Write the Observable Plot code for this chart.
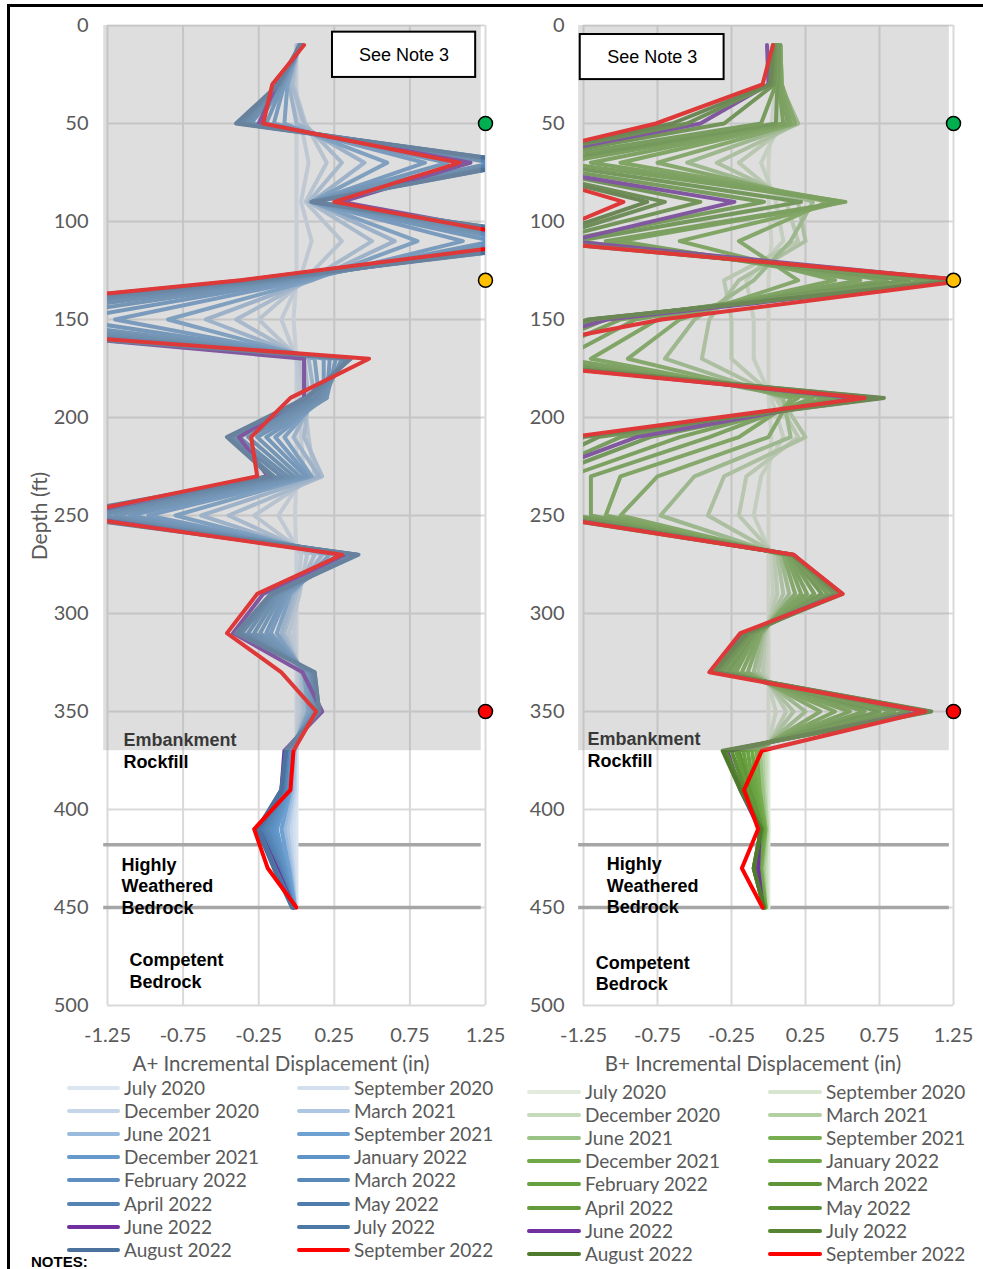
<!DOCTYPE html>
<html>
<head>
<meta charset="utf-8">
<script src="https://cdn.jsdelivr.net/npm/d3@7"></script>
<script src="https://cdn.jsdelivr.net/npm/@observablehq/plot@0.6"></script>
<style>
  body { margin: 0; background: #fff; }
  #wrap { position: relative; width: 983px; height: 1269px; overflow: hidden; font-family: Lato, sans-serif; background: #fff; }
  .frame { position: absolute; left: 7px; top: 4px; width: 990px; height: 1280px; border-top: 3px solid #000; border-left: 3px solid #000; box-sizing: border-box; }
  .panel { position: absolute; top: 0; }
  .xtitle { position: absolute; font-size: 20.5px; line-height: 17px; height: 17px; color: #595959; white-space: nowrap; transform: translate(-50%, -50%); }
  .ytitle { position: absolute; font-size: 21px; color: #595959; white-space: nowrap; transform: translate(-50%, -50%) rotate(-90deg); }
  .leg { position: absolute; height: 16px; line-height: 16px; display: flex; align-items: center; font-size: 19px; color: #595959; white-space: nowrap; }
  .leg span.sw { display: inline-block; height: 4px; border-radius: 2px; margin-right: 4px; }
  .notes { position: absolute; left: 31px; top: 1255px; font: bold 15px/13px "Liberation Sans", Arial, sans-serif; color: #000; }
</style>
</head>
<body>
<div id="wrap">
  <div class="frame"></div>
</div>
<script>
// ---- data ----
const depths = [10, 30, 50, 70, 90, 110, 130, 150, 170, 190, 210, 230, 250, 270, 290, 310, 330, 350, 370, 390, 410, 430, 450];
const dates = ["July 2020", "September 2020", "December 2020", "March 2021", "June 2021", "September 2021",
  "December 2021", "January 2022", "February 2022", "March 2022", "April 2022", "May 2022",
  "June 2022", "July 2022", "August 2022", "September 2022"];
const xTicks = [-1.25, -0.75, -0.25, 0.25, 0.75, 1.25];
const yTicks = [0, 50, 100, 150, 200, 250, 300, 350, 400, 450, 500];

// A+ incremental displacement (in), one row per reading date, values at the depths above
const valuesA = [
  [0.00, 0.00, 0.00, 0.00, 0.00, 0.00, 0.00, -0.02, 0.00, 0.00, 0.00, 0.00, -0.01, 0.00, 0.00, 0.00, 0.00, 0.00, 0.00, 0.00, 0.00, 0.00, 0.00],
  [0.00, -0.01, 0.03, 0.08, 0.03, 0.10, 0.02, -0.10, 0.00, 0.02, 0.03, 0.05, -0.12, 0.03, 0.01, -0.02, 0.01, 0.01, 0.00, 0.00, -0.02, -0.01, 0.00],
  [0.00, -0.02, 0.06, 0.20, 0.06, 0.30, 0.05, -0.25, 0.02, 0.05, 0.08, 0.12, -0.28, 0.07, 0.02, -0.05, 0.02, 0.03, -0.01, -0.01, -0.04, -0.02, -0.01],
  [0.01, -0.03, 0.05, 0.30, 0.08, 0.50, 0.08, -0.40, 0.05, 0.08, 0.05, 0.17, -0.45, 0.12, 0.00, -0.08, 0.03, 0.05, -0.01, -0.02, -0.06, -0.03, -0.01],
  [0.01, -0.05, 0.00, 0.45, 0.10, 0.65, 0.10, -0.60, 0.08, 0.12, -0.02, 0.15, -0.63, 0.17, -0.02, -0.10, 0.04, 0.07, -0.02, -0.03, -0.08, -0.04, -0.01],
  [0.02, -0.06, -0.08, 0.60, 0.10, 0.80, 0.10, -0.85, 0.12, 0.15, -0.08, 0.10, -0.80, 0.22, -0.04, -0.13, 0.05, 0.08, -0.03, -0.04, -0.10, -0.05, -0.01],
  [0.02, -0.08, -0.15, 0.85, 0.10, 1.10, 0.05, -1.20, 0.18, 0.18, -0.14, 0.08, -0.98, 0.27, -0.06, -0.17, 0.06, 0.10, -0.04, -0.05, -0.13, -0.07, -0.02],
  [0.02, -0.09, -0.20, 1.00, 0.10, 1.30, 0.00, -1.50, 0.22, 0.20, -0.20, 0.06, -1.10, 0.30, -0.08, -0.20, 0.07, 0.11, -0.05, -0.06, -0.15, -0.08, -0.02],
  [0.03, -0.10, -0.25, 1.15, 0.10, 1.45, -0.05, -1.80, 0.26, 0.20, -0.26, 0.02, -1.20, 0.33, -0.10, -0.24, 0.08, 0.12, -0.05, -0.07, -0.17, -0.09, -0.02],
  [0.03, -0.10, -0.30, 1.30, 0.10, 1.60, -0.10, -2.10, 0.30, 0.18, -0.32, -0.02, -1.30, 0.36, -0.12, -0.28, 0.09, 0.13, -0.06, -0.08, -0.19, -0.10, -0.02],
  [0.03, -0.11, -0.33, 1.40, 0.10, 1.70, -0.15, -2.40, 0.32, 0.15, -0.38, -0.06, -1.38, 0.38, -0.14, -0.32, 0.10, 0.14, -0.06, -0.08, -0.21, -0.11, -0.02],
  [0.03, -0.12, -0.36, 1.45, 0.12, 1.80, -0.20, -2.60, 0.34, 0.12, -0.42, -0.10, -1.45, 0.40, -0.15, -0.36, 0.10, 0.14, -0.07, -0.09, -0.23, -0.12, -0.02],
  [0.04, -0.13, -0.25, 1.15, 0.30, 1.70, -0.35, -2.80, 0.05, 0.05, -0.38, -0.19, -1.50, 0.32, -0.22, -0.42, 0.04, 0.17, -0.08, -0.10, -0.25, -0.13, -0.02],
  [0.03, -0.12, -0.38, 1.50, 0.12, 1.90, -0.25, -2.90, 0.35, 0.08, -0.45, -0.15, -1.55, 0.41, -0.16, -0.38, 0.12, 0.15, -0.07, -0.10, -0.25, -0.14, -0.02],
  [0.02, -0.12, -0.40, 1.50, 0.10, 1.90, -0.30, -3.10, 0.36, 0.06, -0.46, -0.17, -1.60, 0.40, -0.17, -0.40, 0.12, 0.15, -0.07, -0.10, -0.26, -0.15, -0.03],
  [0.05, -0.16, -0.22, 1.08, 0.25, 1.65, -0.37, -3.00, 0.48, -0.04, -0.30, -0.26, -1.52, 0.30, -0.26, -0.46, -0.10, 0.13, -0.02, -0.04, -0.28, -0.19, 0.00]
];

// B+ incremental displacement (in)
const valuesB = [
  [0.06, 0.05, 0.02, 0.00, 0.00, 0.02, 0.00, 0.00, 0.00, 0.00, 0.02, 0.00, 0.00, 0.00, 0.00, 0.00, 0.00, 0.00, 0.00, 0.00, 0.00, 0.00, 0.00],
  [0.06, 0.06, 0.08, -0.05, 0.05, 0.10, -0.15, -0.10, -0.10, 0.02, 0.10, -0.05, -0.10, 0.02, 0.03, -0.01, -0.02, 0.05, -0.01, -0.01, 0.00, -0.01, -0.01],
  [0.07, 0.07, 0.15, -0.20, 0.12, 0.20, -0.30, -0.25, -0.25, 0.05, 0.20, -0.15, -0.20, 0.04, 0.06, -0.02, -0.04, 0.12, -0.02, -0.02, -0.01, -0.02, -0.01],
  [0.07, 0.08, 0.20, -0.35, 0.20, 0.25, -0.20, -0.40, -0.45, 0.08, 0.25, -0.30, -0.41, 0.06, 0.10, -0.03, -0.07, 0.17, -0.04, -0.03, -0.01, -0.03, -0.02],
  [0.08, 0.08, 0.20, -0.55, 0.30, 0.15, -0.10, -0.50, -0.70, 0.10, 0.15, -0.50, -0.73, 0.08, 0.14, -0.04, -0.10, 0.25, -0.06, -0.04, -0.02, -0.04, -0.02],
  [0.08, 0.09, 0.18, -0.75, 0.40, -0.20, 0.20, -0.60, -0.95, 0.15, 0.00, -0.75, -1.00, 0.10, 0.18, -0.05, -0.14, 0.35, -0.08, -0.06, -0.02, -0.05, -0.02],
  [0.08, 0.09, 0.15, -1.00, 0.50, -0.60, 0.45, -0.75, -1.20, 0.20, -0.20, -1.00, -1.10, 0.12, 0.22, -0.06, -0.18, 0.45, -0.11, -0.08, -0.03, -0.06, -0.02],
  [0.08, 0.08, 0.13, -1.20, 0.52, -1.00, 0.62, -0.90, -1.40, 0.30, -0.40, -1.20, -1.20, 0.13, 0.26, -0.08, -0.22, 0.55, -0.14, -0.10, -0.03, -0.07, -0.03],
  [0.07, 0.07, 0.10, -1.40, 0.50, -1.10, 0.80, -1.00, -1.60, 0.40, -0.60, -1.35, -1.30, 0.14, 0.31, -0.09, -0.25, 0.65, -0.17, -0.12, -0.04, -0.08, -0.03],
  [0.07, 0.06, 0.05, -1.55, 0.22, -1.30, 0.95, -1.10, -1.75, 0.50, -0.80, -1.50, -1.35, 0.15, 0.36, -0.10, -0.28, 0.75, -0.20, -0.13, -0.04, -0.09, -0.03],
  [0.06, 0.05, -0.05, -1.70, -0.03, -1.40, 1.10, -1.15, -1.85, 0.60, -1.00, -1.60, -1.40, 0.15, 0.40, -0.11, -0.30, 0.85, -0.22, -0.14, -0.05, -0.09, -0.03],
  [0.05, 0.04, -0.30, -1.80, -0.46, -1.50, 1.25, -1.20, -1.95, 0.68, -1.15, -1.70, -1.45, 0.16, 0.44, -0.12, -0.33, 0.95, -0.25, -0.16, -0.05, -0.10, -0.03],
  [-0.01, 0.00, -0.46, -1.85, -0.23, -1.35, 1.30, -1.09, -2.00, 0.60, -0.89, -1.60, -1.50, 0.17, 0.48, -0.17, -0.36, 1.05, -0.28, -0.19, -0.06, -0.07, -0.04],
  [0.04, 0.02, -0.55, -1.90, -0.70, -1.55, 1.30, -1.20, -2.05, 0.75, -1.25, -1.80, -1.50, 0.16, 0.48, -0.14, -0.36, 1.08, -0.29, -0.18, -0.05, -0.10, -0.03],
  [0.03, 0.01, -0.65, -1.90, -0.82, -1.60, 1.32, -1.22, -2.10, 0.78, -1.30, -1.90, -1.55, 0.16, 0.50, -0.15, -0.37, 1.10, -0.31, -0.19, -0.05, -0.10, -0.03],
  [0.03, -0.04, -0.76, -1.88, -0.98, -1.61, 1.35, -0.72, -2.10, 0.65, -1.33, -2.00, -1.54, 0.17, 0.50, -0.19, -0.40, 1.06, -0.045, -0.165, -0.07, -0.18, -0.04]
];

const colorsA = ["#dce6f2", "#d2dfee", "#c5d6ea", "#adc6e3", "#9bbbde", "#6fa0d2", "#6699cc", "#5e94c8",
  "#5e8fc0", "#5889b9", "#5484b4", "#4f7eae", "#7030a0", "#4c79a6", "#4a729c", "#ff0000"];
const colorsB = ["#e2ecdc", "#d8e6d0", "#c6dbb9", "#b3d0a2", "#9cc386", "#78ad52", "#70a846", "#6aa343",
  "#67a03e", "#5f9438", "#649c3c", "#5b8f35", "#7030a0", "#558533", "#4f7a2e", "#ff0000"];

// alarm markers (depth ft) and colours
const alarmDepths = [50, 130, 350];
const alarmColors = ["#00b050", "#ffc000", "#ff0000"];
// geologic layer boundaries (ft) and overlay extent
const layerBoundaries = [418, 450];
const rockfillBottom = 370;

function tidy(values) {
  const rows = [];
  values.forEach((arr, si) => arr.forEach((v, di) => rows.push({series: dates[si], depth: depths[di], disp: v})));
  return rows;
}

function panel(values, colors, cfg) {
  const boldText = {textAnchor: "start", lineAnchor: "top", fontWeight: "bold", fontSize: 18,
    fill: "#000", fontFamily: "'Liberation Sans', Arial, sans-serif", lineHeight: 1.2};
  return Plot.plot({
    width: cfg.width, height: 1050,
    marginLeft: cfg.ml, marginRight: cfg.mr, marginTop: 25, marginBottom: 45,
    style: {fontFamily: "Lato, sans-serif", fontSize: "20px", color: "#595959", background: "transparent", overflow: "visible"},
    x: {domain: [-1.25, 1.25], ticks: xTicks, label: null},
    y: {domain: [0, 500], reverse: true, ticks: yTicks, label: null},
    color: {type: "ordinal", domain: dates, range: colors},
    marks: [
      Plot.ruleX(xTicks, {stroke: "#d9d9d9", strokeWidth: 2}),
      Plot.ruleY(yTicks, {stroke: "#d9d9d9", strokeWidth: 2}),
      Plot.ruleY(layerBoundaries, {x1: cfg.ov[0], x2: cfg.ov[1], stroke: "#a6a6a6", strokeWidth: 3.5}),
      Plot.text(["Embankment\nRockfill"], {...boldText, x: cfg.emb[0], y: cfg.emb[1], lineHeight: 1.22}),
      Plot.text(["Highly\nWeathered\nBedrock"], {...boldText, x: cfg.hw[0], y: cfg.hw[1]}),
      Plot.text(["Competent\nBedrock"], {...boldText, x: cfg.cb[0], y: cfg.cb[1]}),
      Plot.line(tidy(values), {x: "disp", y: "depth", z: "series", stroke: "series", strokeWidth: 4, clip: true}),
      Plot.rect([rockfillBottom], {x1: cfg.ov[0], x2: cfg.ov[1], y1: 0, y2: d => d, fill: "#a0a0a0", fillOpacity: 0.35}),
      ...alarmDepths.map((d, i) => Plot.dot([d], {x: 1.25, y: v => v, r: 7, fill: alarmColors[i], stroke: "#000", strokeWidth: 1.5})),
      Plot.rect([0], {x1: cfg.note[0], x2: cfg.note[1], y1: cfg.note[2], y2: cfg.note[3], fill: "#fff", stroke: "#000", strokeWidth: 2}),
      Plot.text(["See Note 3"], {x: (cfg.note[0] + cfg.note[1]) / 2, y: (cfg.note[2] + cfg.note[3]) / 2, fontSize: 18,
        fill: "#000", fontFamily: "'Liberation Sans', Arial, sans-serif"}),
      Plot.axisX({ticks: xTicks, tickSize: 0, tickPadding: 22, tickFormat: d => d.toFixed(2)}),
      Plot.axisY({ticks: yTicks, tickSize: 0, tickPadding: 19})
    ]
  });
}

const wrap = document.getElementById("wrap");

const left = panel(valuesA, colorsA, {width: 500, ml: 107, mr: 15,
  emb: [-1.145, 359.5], hw: [-1.157, 423.5], cb: [-1.105, 472],
  ov: [-1.275, 1.222], note: [0.238, 1.185, 3.4, 26.5]});
left.classList.add("panel");
left.style.left = "0px";
wrap.appendChild(left);

const right = panel(valuesB, colorsB, {width: 503, ml: 103, mr: 30,
  emb: [-1.223, 359], hw: [-1.093, 423], cb: [-1.167, 473.5],
  ov: [-1.283, 1.222], note: [-1.272, -0.30, 4.6, 27.6]});
right.classList.add("panel");
right.style.left = "480px";
wrap.appendChild(right);

function addDiv(cls, text, x, y) {
  const d = document.createElement("div");
  d.className = cls;
  d.textContent = text;
  d.style.left = x + "px";
  d.style.top = y + "px";
  wrap.appendChild(d);
}
addDiv("ytitle", "Depth (ft)", 38, 516);
addDiv("xtitle", "A+ Incremental Displacement (in)", 281, 1063);
addDiv("xtitle", "B+ Incremental Displacement (in)", 753, 1063);

function legend(colors, cfg) {
  dates.forEach((name, i) => {
    const col = i % 2, row = Math.floor(i / 2);
    const d = document.createElement("div");
    d.className = "leg";
    d.style.left = cfg.x[col] + "px";
    d.style.top = (cfg.y0 + row * cfg.dy - 8) + "px";
    const sw = document.createElement("span");
    sw.className = "sw";
    sw.style.width = cfg.sw + "px";
    sw.style.background = colors[i];
    d.appendChild(sw);
    d.appendChild(document.createTextNode(name));
    wrap.appendChild(d);
  });
}
legend(colorsA, {x: [67, 297], y0: 1088, dy: 23.1, sw: 53});
legend(colorsB, {x: [527, 768], y0: 1092, dy: 23.1, sw: 54});

addDiv("notes", "NOTES:", 31, 1255);
</script>
</body>
</html>
